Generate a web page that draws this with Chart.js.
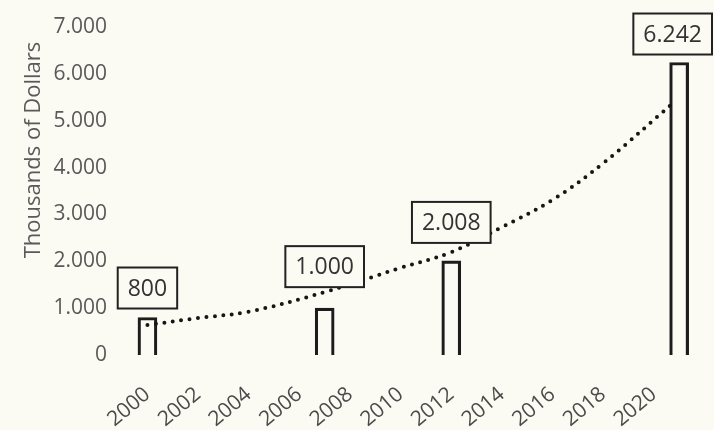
<!DOCTYPE html>
<html>
<head>
<meta charset="utf-8">
<script src="https://cdn.jsdelivr.net/npm/chart.js@4.4.1/dist/chart.umd.min.js"></script>
<style>
  html, body { margin: 0; padding: 0; background: #fbfaf3; }
  #wrap { width: 714px; height: 430px; position: relative; }
</style>
</head>
<body>
<div id="wrap"><canvas id="chart"></canvas></div>
<script>
// spending by year, thousands of dollars
const years = [2000, 2007, 2012, 2021];
const amounts = [800, 1000, 2008, 6242];

// dotted trend curve, read along its path
const trendYears = [2000, 2002, 2004, 2007, 2010, 2012, 2014, 2016, 2018, 2020.75];
const trendValues = [640, 790, 925, 1343, 1860, 2196, 2730, 3310, 4094, 5373];

const yearTicks = [2000, 2002, 2004, 2006, 2008, 2010, 2012, 2014, 2016, 2018, 2020];
const yTitle = 'Thousands of Dollars';

const FONT = '"Open Sans", "Noto Sans", sans-serif';

// 7000 -> "7.000"
function fmt(v) {
    return String(v).replace(/\B(?=(\d{3})+(?!\d))/g, '.');
}

// boxed value labels above the bars
const labelGap = [9, 21, 18, 8];
const boxLabels = {
    id: 'boxLabels',
    afterDatasetsDraw(chart) {
        const ctx = chart.ctx;
        const meta = chart.getDatasetMeta(0);
        ctx.save();
        ctx.font = '23px ' + FONT;
        ctx.textAlign = 'center';
        ctx.textBaseline = 'middle';
        meta.data.forEach(function(bar, i) {
            const text = fmt(amounts[i]);
            const w = ctx.measureText(text).width + 20;
            const h = 41;
            let cx = bar.x;
            if (cx + w / 2 > chart.width - 2) cx = chart.width - 2 - w / 2;
            const bottom = bar.y - labelGap[i];
            ctx.fillStyle = '#fbfaf3';
            ctx.fillRect(cx - w / 2, bottom - h, w, h);
            ctx.lineWidth = 2;
            ctx.strokeStyle = '#222';
            ctx.strokeRect(cx - w / 2, bottom - h, w, h);
            ctx.fillStyle = '#333';
            ctx.fillText(text, cx, bottom - h / 2 + 1);
        });
        ctx.restore();
    }
};

// rotated y axis title, sits a little above the middle
const sideTitle = {
    id: 'sideTitle',
    afterDraw(chart) {
        const ctx = chart.ctx;
        ctx.save();
        ctx.translate(34, 150);
        ctx.rotate(-Math.PI / 2);
        ctx.font = '22px ' + FONT;
        ctx.fillStyle = '#5a5a5a';
        ctx.textAlign = 'center';
        ctx.textBaseline = 'middle';
        ctx.fillText(yTitle, 0, 0);
        ctx.restore();
    }
};

const ctx = document.getElementById('chart');
new Chart(ctx, {
    data: {
        datasets: [{
            type: 'bar',
            data: years.map((y, i) => ({ x: y, y: amounts[i] })),
            backgroundColor: 'rgba(0,0,0,0)',
            borderColor: '#1c1c1c',
            borderWidth: 2.5,
            borderSkipped: 'start',
            barThickness: 19,
            order: 1
        }, {
            type: 'line',
            data: trendYears.map((y, i) => ({ x: y, y: trendValues[i] })),
            borderColor: '#161616',
            borderWidth: 4,
            borderDash: [0, 8.5],
            borderCapStyle: 'round',
            pointRadius: 0,
            tension: 0.4,
            fill: false,
            order: 0
        }]
    },
    options: {
        responsive: true,
        maintainAspectRatio: false,
        animation: false,
        layout: { padding: { top: 27, right: 7, left: 0, bottom: 0 } },
        plugins: {
            legend: { display: false },
            tooltip: { enabled: false }
        },
        scales: {
            x: {
                type: 'linear',
                offset: false,
                min: 1998.6,
                max: 2022.1,
                grid: { display: false, drawTicks: false, offset: false },
                border: { display: false },
                afterBuildTicks: scale => {
                    scale.ticks = yearTicks.map(v => ({ value: v }));
                },
                afterFit: scale => {
                    scale.height = 75;
                    scale.paddingLeft = 0;
                    scale.paddingRight = 0;
                },
                ticks: {
                    autoSkip: false,
                    minRotation: 40,
                    maxRotation: 40,
                    padding: 27,
                    color: '#4a4a4a',
                    font: { family: FONT, size: 21 },
                    callback: v => String(v)
                }
            },
            y: {
                min: 0,
                max: 7000,
                grid: { display: false, drawTicks: false },
                border: { display: false },
                afterFit: scale => {
                    scale.width = 112;
                    scale.paddingTop = 0;
                    scale.paddingBottom = 0;
                },
                ticks: {
                    stepSize: 1000,
                    padding: 5,
                    color: '#595959',
                    font: { family: FONT, size: 21 },
                    callback: v => fmt(v)
                }
            }
        }
    },
    plugins: [boxLabels, sideTitle]
});
</script>
</body>
</html>
